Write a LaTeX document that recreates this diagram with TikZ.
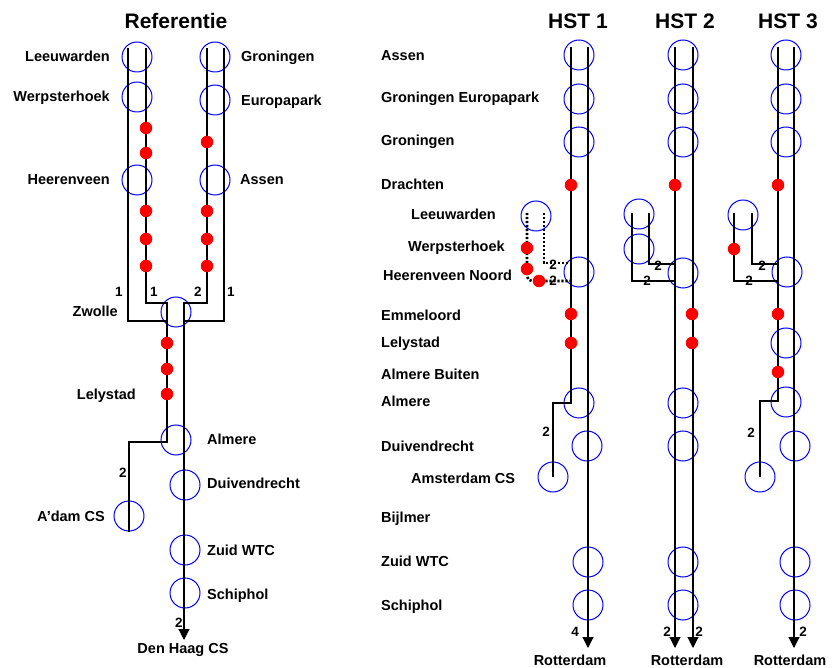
\documentclass[tikz,border=0pt]{standalone}
\usepackage{fontspec}
\setmainfont{Liberation Sans}
\usetikzlibrary{arrows.meta}
\begin{document}
\begin{tikzpicture}[x=1pt,y=-1pt,
  stn/.style={circle,draw=blue,line width=1pt,minimum size=30pt,inner sep=0pt},
  rdot/.style={circle,fill=red,minimum size=12.5pt,inner sep=0pt},
  trk/.style={line width=1.1pt,draw=black},
  dtrk/.style={line width=2.6pt,draw=black,dash pattern=on 2.2pt off 1.8pt},
  arr/.style={trk,-{Triangle[length=11pt,width=11pt]}},
  lw/.style={anchor=base west,yshift=-5pt,inner sep=0pt,font=\bfseries\fontsize{14.5}{16}\selectfont},
  le/.style={anchor=base east,yshift=-5pt,inner sep=0pt,font=\bfseries\fontsize{14.5}{16}\selectfont},
  lc/.style={anchor=base,yshift=-5pt,inner sep=0pt,font=\bfseries\fontsize{14.5}{16}\selectfont},
  num/.style={anchor=base,yshift=-5pt,inner sep=0pt,font=\bfseries\fontsize{13.5}{15}\selectfont},
  ttl/.style={inner sep=0pt,font=\bfseries\fontsize{21}{23}\selectfont}
]
\useasboundingbox (0,0) rectangle (836,668);

% ================= Referentie =================
\node[ttl] (tRef) at (176,21) {Referentie};

\coordinate (Lt1) at (128,48);
\coordinate (Lt2) at (146,48);
\coordinate (Gt1) at (207,48);
\coordinate (Gt2) at (224,48);
\coordinate (Zl) at (167,303);
\coordinate (Zr) at (184,303);
\coordinate (Zlo) at (167,321);
\coordinate (Zro) at (184,321);
\coordinate (DHend) at (184,640);

\node[stn] (rLeeu) at (137,57) {};
\node[stn] (rWerp) at (137,97) {};
\node[stn] (rHeer) at (137,180) {};
\node[stn] (rGron) at (215,57) {};
\node[stn] (rEuro) at (215,100) {};
\node[stn] (rAsse) at (215,180) {};
\node[stn] (rZwol) at (176,312) {};
\node[stn] (rAlme) at (176,440) {};
\node[stn] (rDuiv) at (185,485) {};
\node[stn] (rAdam) at (129,516) {};
\node[stn] (rZuid) at (185,550) {};
\node[stn] (rSchi) at (185,593) {};

\draw[trk] (Lt1) |- (Zlo);
\draw[trk] (Lt2) |- (Zl) -- (Zl |- 0,442) -| (rAdam.south);
\draw[arr] (Gt1) |- (Zr) -- (DHend);
\draw[trk] (Gt2) |- (Zro);

\foreach \n/\y in {1/128,2/153,3/211,4/239,5/266}
  \node[rdot] (rdL\n) at (146,\y) {};
\foreach \n/\y in {1/142,2/211,3/239,4/266}
  \node[rdot] (rdG\n) at (207,\y) {};
\foreach \n/\y in {1/343,2/369,3/394}
  \node[rdot] (rdZ\n) at (167,\y) {};

\node[le] (lLeeu) at (110,57) {Leeuwarden};
\node[le] (lWerp) at (110,97) {Werpsterhoek};
\node[le] (lHeer) at (110,180) {Heerenveen};
\node[lw] (lGron) at (241,57) {Groningen};
\node[lw] (lEuro) at (241,101) {Europapark};
\node[lw] (lAsse) at (240,180) {Assen};
\node[le] (lZwol) at (118,312) {Zwolle};
\node[le] (lLely) at (136,395) {Lelystad};
\node[lw] (lAlme) at (207,440) {Almere};
\node[lw] (lDuiv) at (207,484) {Duivendrecht};
\node[le] (lAdam) at (105,516) {A'dam CS};
\node[lw] (lZuid) at (207,550) {Zuid WTC};
\node[lw] (lSchi) at (207,594) {Schiphol};
\node[lc] (lDH) at (183,648) {Den Haag CS};

\node[num] (n1) at (119,292) {1};
\node[num] (n2) at (154,292) {1};
\node[num] (n3) at (198,292) {2};
\node[num] (n4) at (231,292) {1};
\node[num] (n5) at (123,473) {2};
\node[num] (n6) at (179,622) {2};

% ================= Station column =================
\node[lw] (sAsse) at (381,56) {Assen};
\node[lw] (sEuro) at (381,98) {Groningen Europapark};
\node[lw] (sGron) at (381,141) {Groningen};
\node[lw] (sDrac) at (381,185) {Drachten};
\node[lw] (sLeeu) at (411,215) {Leeuwarden};
\node[lw] (sWerp) at (408,247) {Werpsterhoek};
\node[lw] (sHeer) at (383,276) {Heerenveen Noord};
\node[lw] (sEmme) at (381,316) {Emmeloord};
\node[lw] (sLely) at (381,343) {Lelystad};
\node[lw] (sAlmB) at (381,375) {Almere Buiten};
\node[lw] (sAlme) at (381,402) {Almere};
\node[lw] (sDuiv) at (381,446) {Duivendrecht};
\node[lw] (sAdam) at (411,478) {Amsterdam CS};
\node[lw] (sBijl) at (381,517) {Bijlmer};
\node[lw] (sZuid) at (381,561) {Zuid WTC};
\node[lw] (sSchi) at (381,605) {Schiphol};

% ================= HST 1 =================
\node[ttl] (tH1) at (578,21) {HST 1};
\coordinate (h1a) at (571,47);
\coordinate (h1b) at (588,47);
\coordinate (h1e) at (588,648);
\coordinate (h1p) at (527,213);
\coordinate (h1q) at (544,213);

\node[stn] (aAsse) at (579,55) {};
\node[stn] (aEuro) at (579,99) {};
\node[stn] (aGron) at (579,142) {};
\node[stn] (aLeeu) at (536,216) {};
\node[stn] (aHeer) at (579,272) {};
\node[stn] (aAlme) at (579,403) {};
\node[stn] (aDuiv) at (587,446) {};
\node[stn] (aAdam) at (553,477) {};
\node[stn] (aZuid) at (588,562) {};
\node[stn] (aSchi) at (588,605) {};

\draw[trk] (h1a) -- (h1a |- aAlme) -| (aAdam.center);
\draw[arr] (h1b) -- (h1e);
\draw[dtrk,rounded corners=5pt] (h1p) |- (h1a |- 0,281);
\draw[dtrk] (h1q) |- (h1a |- 0,263);

\node[rdot] (ad1) at (571,185) {};
\node[rdot] (ad2) at (571,314) {};
\node[rdot] (ad3) at (571,343) {};
\node[rdot] (ad4) at (527,248) {};
\node[rdot] (ad5) at (527,269) {};
\node[rdot] (ad6) at (539,281) {};

\node[num] (an1) at (553,265) {2};
\node[num] (an2) at (553,281) {2};
\node[num] (an3) at (546,432) {2};
\node[num] (an4) at (575,631) {4};
\node[lc] (aRot) at (570,660) {Rotterdam};

% ================= HST 2 =================
\node[ttl] (tH2) at (685,21) {HST 2};
\coordinate (h2a) at (675,47);
\coordinate (h2b) at (693,47);
\coordinate (h2ae) at (675,648);
\coordinate (h2be) at (693,648);
\coordinate (h2p) at (632,213);
\coordinate (h2q) at (649,213);

\node[stn] (bAsse) at (683,55) {};
\node[stn] (bEuro) at (683,99) {};
\node[stn] (bGron) at (683,142) {};
\node[stn] (bLeeu) at (639,214) {};
\node[stn] (bWerp) at (639,249) {};
\node[stn] (bHeer) at (683,273) {};
\node[stn] (bAlme) at (683,403) {};
\node[stn] (bDuiv) at (683,446) {};
\node[stn] (bZuid) at (683,562) {};
\node[stn] (bSchi) at (683,605) {};

\draw[arr] (h2a) -- (h2ae);
\draw[arr] (h2b) -- (h2be);
\draw[trk] (h2p) |- (h2a |- 0,281);
\draw[trk] (h2q) |- (h2a |- 0,264);

\node[rdot] (bd1) at (675,185) {};
\node[rdot] (bd2) at (692,314) {};
\node[rdot] (bd3) at (692,343) {};

\node[num] (bn1) at (658,266) {2};
\node[num] (bn2) at (647,281) {2};
\node[num] (bn3) at (667,631) {2};
\node[num] (bn4) at (699,631) {2};
\node[lc] (bRot) at (687,660) {Rotterdam};

% ================= HST 3 =================
\node[ttl] (tH3) at (788,21) {HST 3};
\coordinate (h3a) at (778,47);
\coordinate (h3b) at (794,47);
\coordinate (h3e) at (794,648);
\coordinate (h3p) at (734,213);
\coordinate (h3q) at (752,213);

\node[stn] (cAsse) at (786,55) {};
\node[stn] (cEuro) at (786,99) {};
\node[stn] (cGron) at (786,142) {};
\node[stn] (cLeeu) at (743,215) {};
\node[stn] (cHeer) at (787,272) {};
\node[stn] (cLely) at (786,343) {};
\node[stn] (cAlme) at (786,402) {};
\node[stn] (cDuiv) at (795,446) {};
\node[stn] (cAdam) at (760,477) {};
\node[stn] (cZuid) at (795,562) {};
\node[stn] (cSchi) at (795,605) {};

\draw[trk] (h3a) -- (h3a |- 0,401) -| (cAdam.center);
\draw[arr] (h3b) -- (h3e);
\draw[trk] (h3p) |- (h3a |- 0,281);
\draw[trk] (h3q) |- (h3a |- 0,264);

\node[rdot] (cd1) at (778,185) {};
\node[rdot] (cd2) at (734,249) {};
\node[rdot] (cd3) at (778,314) {};
\node[rdot] (cd4) at (778,372) {};

\node[num] (cn1) at (762,266) {2};
\node[num] (cn2) at (749,281) {2};
\node[num] (cn3) at (751,433) {2};
\node[num] (cn4) at (803,631) {2};
\node[lc] (cRot) at (790,660) {Rotterdam};
\end{tikzpicture}
\end{document}
